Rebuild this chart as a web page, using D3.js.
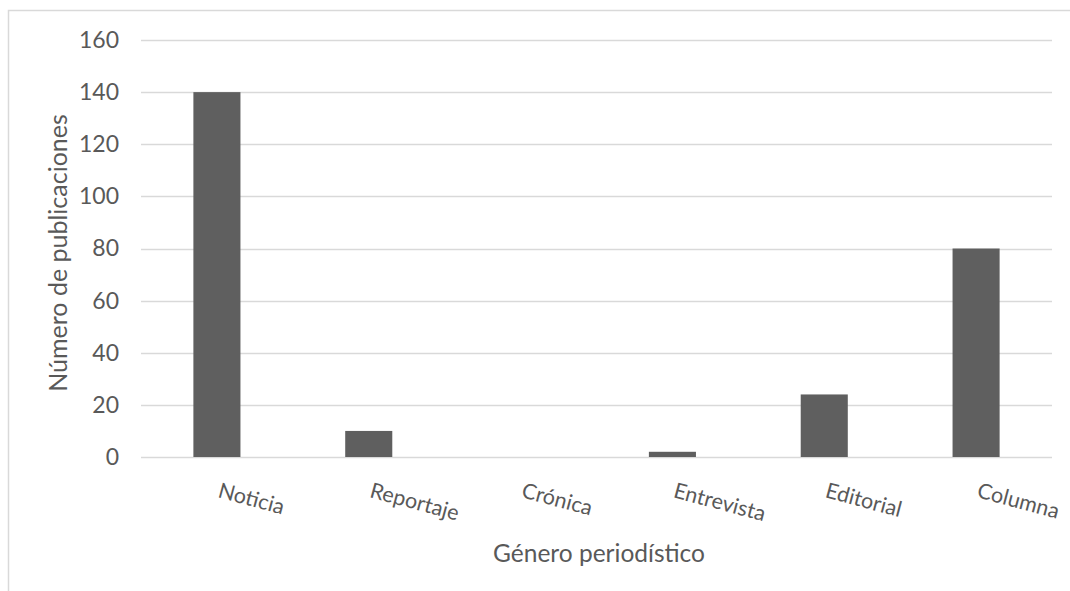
<!DOCTYPE html>
<html>
<head>
<meta charset="utf-8">
<script src="https://cdn.jsdelivr.net/npm/d3@7"></script>
<style>
  html, body { margin: 0; padding: 0; background: #ffffff; }
  svg { display: block; }
  text { font-family: Lato, "Open Sans", sans-serif; fill: #595959; }
</style>
</head>
<body>
<svg id="chart" width="1070" height="591"></svg>
<script>
const categories = ["Noticia", "Reportaje", "Crónica", "Entrevista", "Editorial", "Columna"];
const values = [140, 10, 0, 2, 24, 80];
const yTicks = [0, 20, 40, 60, 80, 100, 120, 140, 160];
const xTitle = "Género periodístico";
const yTitle = "Número de publicaciones";

const svg = d3.select("#chart");

// chart frame
svg.append("rect")
  .attr("x", 8.5).attr("y", 10.5)
  .attr("width", 1100).attr("height", 700)
  .attr("fill", "none").attr("stroke", "#d9d9d9").attr("stroke-width", 1.5);

const plot = { left: 141, right: 1052, top: 40, bottom: 457 };

const x = d3.scaleBand().domain(categories).range([plot.left, plot.right]).paddingInner(0.69).paddingOuter(0.345);
const y = d3.scaleLinear().domain([0, 160]).range([plot.bottom, plot.top]);

// gridlines
svg.append("g").selectAll("line").data(yTicks).join("line")
  .attr("x1", plot.left).attr("x2", plot.right)
  .attr("y1", d => Math.round(y(d)) + 0.5).attr("y2", d => Math.round(y(d)) + 0.5)
  .attr("stroke", "#d9d9d9").attr("stroke-width", 1.5);

// y tick labels via axis
const yAxis = d3.axisLeft(y).tickValues(yTicks).tickSize(0).tickPadding(0);
const gy = svg.append("g").attr("transform", `translate(119,0)`).call(yAxis);
gy.select(".domain").remove();
gy.selectAll("text").style("font-size", "23px").attr("fill", "#595959")
  .style("font-family", "Lato, 'Open Sans', sans-serif");

// bars
svg.append("g").selectAll("rect").data(values).join("rect")
  .attr("x", (d, i) => x(categories[i]))
  .attr("width", x.bandwidth())
  .attr("y", d => y(d))
  .attr("height", d => y(0) - y(d))
  .attr("fill", "#5f5f5f");

// category labels (rotated)
const xc = d3.scaleBand().domain(categories).range([plot.left, plot.right]);
svg.append("g").selectAll("text").data(categories).join("text")
  .attr("transform", d => `translate(${xc(d) + xc.bandwidth() / 2},497) rotate(15)`)
  .attr("text-anchor", "start")
  .style("font-size", "21.5px")
  .text(d => d);

// axis titles
svg.append("text")
  .attr("x", 599).attr("y", 562)
  .attr("text-anchor", "middle")
  .style("font-size", "24.5px")
  .text(xTitle);

svg.append("text")
  .attr("transform", "translate(67,253) rotate(-90)")
  .attr("text-anchor", "middle")
  .style("font-size", "25px")
  .text(yTitle);
</script>
</body>
</html>
